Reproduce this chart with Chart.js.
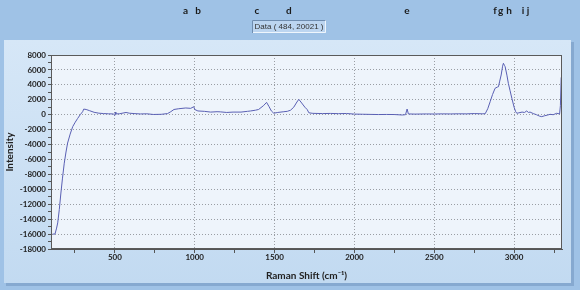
<!DOCTYPE html>
<html>
<head>
<meta charset="utf-8">
<script src="https://cdn.jsdelivr.net/npm/chart.js@4/dist/chart.umd.min.js"></script>
<style>
  html, body { margin: 0; padding: 0; background: #9fc2e6; }
  #wrap { width: 580px; height: 290px; position: relative; }
</style>
</head>
<body>
<div id="wrap"><canvas id="spectrum"></canvas></div>
<script>
// spectrum (Raman shift in cm-1, intensity)
const ramanShift = [110, 125, 135, 142, 152, 162, 172, 183, 194, 204, 220, 236, 252, 267, 283, 298, 305, 320, 340, 370,
  400, 430, 460, 490, 500, 503, 506, 530, 570, 590, 620, 660, 700, 740, 790, 830, 850, 870, 900, 944,
  975, 994, 1000, 1020, 1060, 1100, 1140, 1160, 1200, 1240, 1290, 1330, 1350, 1380, 1400, 1430, 1450, 1465, 1480, 1495,
  1520, 1558, 1580, 1600, 1620, 1640, 1652, 1665, 1690, 1704, 1715, 1740, 1800, 1850, 1900, 1950, 2000, 2050, 2100, 2150,
  2200, 2250, 2300, 2320, 2330, 2338, 2380, 2450, 2500, 2550, 2600, 2650, 2700, 2750, 2800, 2819, 2835, 2850, 2865, 2881,
  2895, 2902, 2910, 2919, 2928, 2933, 2940, 2944, 2955, 2964, 2975, 2986, 3000, 3010, 3017, 3030, 3050, 3065, 3079, 3090,
  3100, 3120, 3140, 3160, 3173, 3190, 3210, 3225, 3245, 3267, 3285, 3290, 3295];
const intensity = [-16000, -16000, -15200, -14500, -12700, -10500, -8500, -6500, -5000, -3800, -2600, -1600, -1000, -500, 0, 400, 750, 700, 550, 320,
  200, 150, 120, 100, -100, 350, 100, 130, 300, 200, 150, 100, 120, 30, 50, 150, 400, 700, 800, 900,
  850, 1070, 700, 500, 450, 350, 400, 380, 300, 350, 350, 450, 500, 600, 700, 1200, 1650, 1100, 500, 200,
  300, 400, 450, 600, 1000, 1700, 2050, 1700, 1000, 700, 250, 180, 150, 170, 140, 160, 80, 60, 40, 20,
  30, 20, -40, 0, 760, 100, 80, 100, 90, 110, 100, 120, 110, 150, 120, 130, 800, 1740, 2700, 3540,
  3700, 3750, 4500, 5320, 6500, 6890, 6600, 6430, 5300, 4200, 3200, 2200, 1000, 400, 190, 250, 350, 300, 500, 300,
  350, 150, 0, -200, -260, -150, -50, 50, 0, 190, 100, 1200, 5000];

const xTicks = [250, 500, 750, 1000, 1250, 1500, 1750, 2000, 2250, 2500, 2750, 3000, 3250];
const peakLetters = ["a", "b", "c", "d", "e", "f", "g", "h", "i", "j"];
const peakShifts = [943, 1021, 1390, 1590, 2329, 2880, 2916, 2968, 3056, 3087];
const cursorText = "Data ( 484, 20021 )";

const tickFont = { family: "Lato", size: 8, weight: "bold" };

const panelPlugin = {
  id: "panel",
  beforeDraw(chart) {
    const { ctx, chartArea: a } = chart;
    ctx.save();
    ctx.fillStyle = "#9fc2e6";
    ctx.fillRect(0, 0, chart.width, chart.height);
    // shadow of the panel
    ctx.fillStyle = "#86a9d0";
    ctx.fillRect(6, 42, 568, 244);
    const g = ctx.createLinearGradient(0, 40, 0, 284);
    g.addColorStop(0, "#d6e7f7");
    g.addColorStop(1, "#c2daf1");
    ctx.fillStyle = g;
    ctx.fillRect(4, 40, 567, 243);
    ctx.fillStyle = "#eef4fb";
    ctx.fillRect(a.left, a.top, a.right - a.left, a.bottom - a.top);
    ctx.restore();
  },
  afterDraw(chart) {
    const { ctx, chartArea: a } = chart;
    const xs = chart.scales.x;
    ctx.save();
    ctx.strokeStyle = "#5a5a5a";
    ctx.lineWidth = 1;
    ctx.strokeRect(a.left + 0.5, a.top + 0.5, a.right - a.left - 1, a.bottom - a.top - 1);
    ctx.fillStyle = "#1a1a1a";
    ctx.font = "bold 10px Lato";
    ctx.textAlign = "center";
    ctx.textBaseline = "middle";
    peakLetters.forEach((l, i) => {
      ctx.fillText(l, xs.getPixelForValue(peakShifts[i]), 11);
    });
    // cursor readout box
    ctx.fillStyle = "#bcd5f0";
    ctx.fillRect(252, 20, 74, 13);
    ctx.strokeStyle = "#6f8db0";
    ctx.beginPath();
    ctx.moveTo(252.5, 33); ctx.lineTo(252.5, 20.5); ctx.lineTo(326, 20.5);
    ctx.stroke();
    ctx.strokeStyle = "#eef5fc";
    ctx.beginPath();
    ctx.moveTo(253, 32.5); ctx.lineTo(325.5, 32.5); ctx.lineTo(325.5, 20.5);
    ctx.stroke();
    ctx.fillStyle = "#333";
    ctx.font = "8px 'Liberation Sans'";
    ctx.fillText(cursorText, 289, 27, 70);
    ctx.restore();
  }
};

new Chart(document.getElementById("spectrum"), {
  type: "line",
  data: {
    datasets: [{
      data: ramanShift.map((x, i) => ({ x: x, y: intensity[i] })),
      borderColor: "#5a60b4",
      borderWidth: 1,
      pointRadius: 0,
      tension: 0,
      fill: false
    }]
  },
  options: {
    responsive: true,
    maintainAspectRatio: false,
    animation: false,
    events: [],
    layout: { padding: { left: 0, top: 55, right: 18, bottom: 0 } },
    plugins: { legend: { display: false }, tooltip: { enabled: false } },
    scales: {
      x: {
        type: "linear",
        min: 100,
        max: 3300,
        afterBuildTicks: s => { s.ticks = xTicks.map(v => ({ value: v })); },
        afterFit: s => { s.height = 41; },
        ticks: {
          autoSkip: false,
          maxRotation: 0,
          padding: 0,
          color: "#222",
          font: tickFont,
          callback: v => (v % 500 === 0 ? v : "")
        },
        grid: {
          color: c => (c.tick && c.tick.value % 500 === 0 ? "#9a9ea4" : "rgba(0,0,0,0)"),
          tickColor: "#555",
          tickLength: 4
        },
        border: { color: "#555", dash: [1, 2] },
        title: {
          display: true,
          text: "Raman Shift (cm\u207B\u00B9)",
          color: "#222",
          font: { family: "Lato", size: 10, weight: "bold" },
          padding: { top: 2, bottom: 8 }
        }
      },
      y: {
        min: -18000,
        max: 8000,
        afterFit: s => { s.width = 51; },
        ticks: {
          stepSize: 1000,
          autoSkip: false,
          padding: 2,
          color: "#222",
          font: tickFont,
          callback: v => (v % 2000 === 0 ? v : "")
        },
        grid: {
          color: c => (c.tick && c.tick.value % 2000 === 0 ? "#9a9ea4" : "rgba(0,0,0,0)"),
          tickColor: "#555",
          tickLength: 3
        },
        border: { color: "#555", dash: [1, 2] },
        title: {
          display: true,
          text: "Intensity",
          color: "#222",
          font: { family: "Lato", size: 10, weight: "bold" },
          padding: { top: 4, bottom: 0 }
        }
      }
    }
  },
  plugins: [panelPlugin]
});
</script>
</body>
</html>
